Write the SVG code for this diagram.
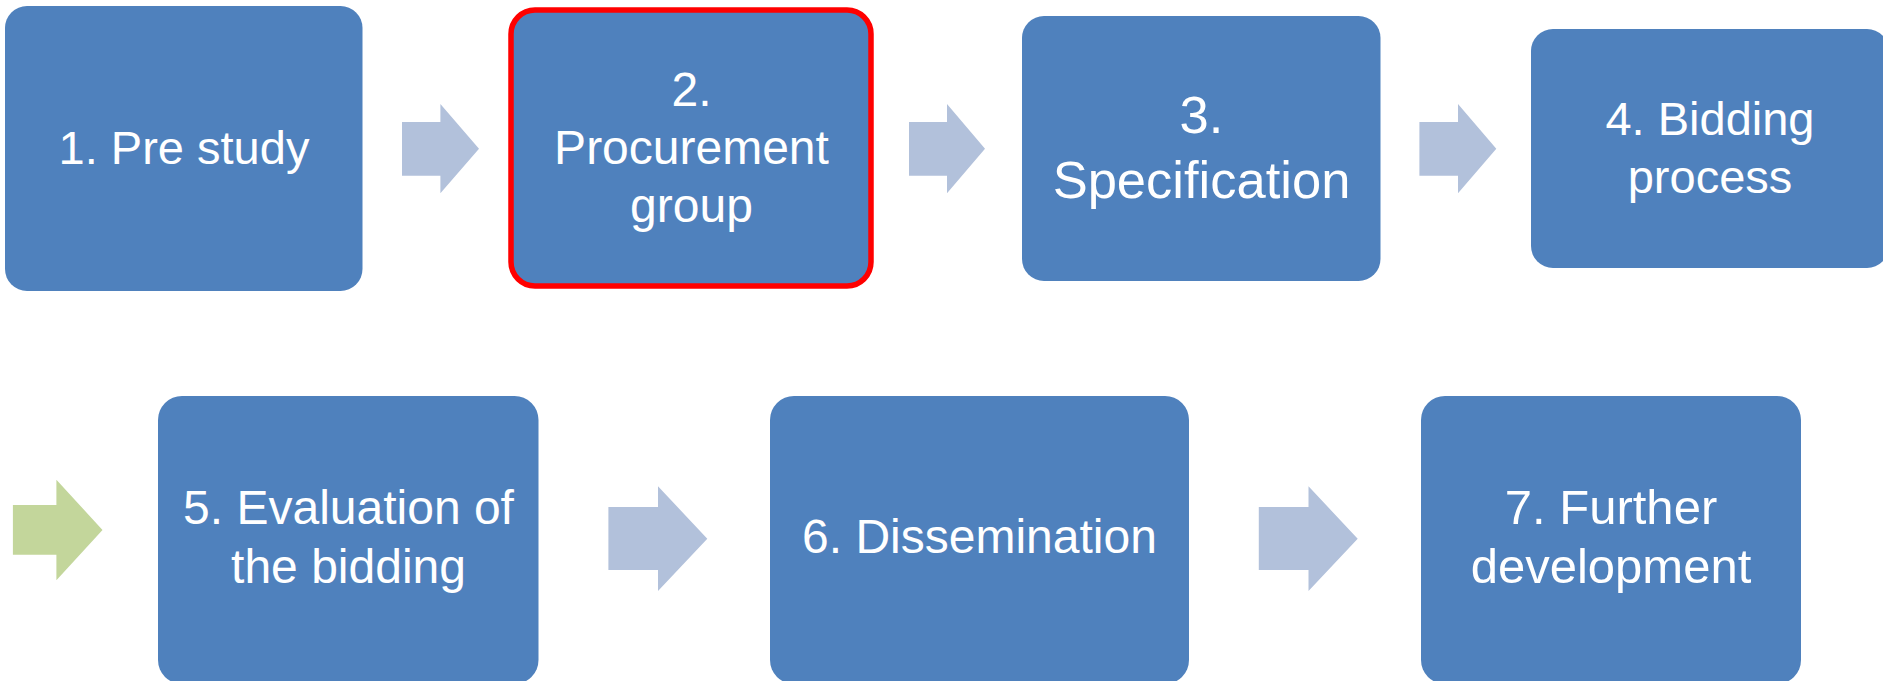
<svg xmlns="http://www.w3.org/2000/svg" width="1883" height="681" viewBox="0 0 1883 681">
<style>
.box{fill:#4F81BD;}
.hl{stroke:#FF0000;stroke-width:5.5;}
.lbl{fill:#FFFFFF;font-family:"Liberation Sans",Arial,sans-serif;font-size:48px;text-anchor:middle;}
.lg{font-size:52.5px;}
.sm{font-size:47px;}
.md{font-size:49px;}
.arr{fill:#B2C1DB;}
.arr-g{fill:#C3D69B;}
</style>
<rect width="1883" height="681" fill="#FFFFFF"/>
<g id="connectors">
<polygon class="arr" points="402,122 440.4,122 440.4,104 479,148.7 440.4,193.3 440.4,175.7 402,175.7"/>
<polygon class="arr" points="909,122 947,122 947,104 985,148.7 947,193.3 947,175.7 909,175.7"/>
<polygon class="arr" points="1419.4,122 1458,122 1458,104 1496.3,148.7 1458,193.3 1458,175.7 1419.4,175.7"/>
<polygon class="arr-g" points="12.9,505 56.4,505 56.4,479.7 102.5,530 56.4,580.3 56.4,554.7 12.9,554.7"/>
<polygon class="arr" points="608.4,507 658,507 658,486.3 707.3,538.7 658,591 658,570 608.4,570"/>
<polygon class="arr" points="1258.8,507 1308.5,507 1308.5,486.3 1357.7,538.7 1308.5,591 1308.5,570 1258.8,570"/>
</g>
<g id="node1">
<rect class="box" x="5" y="6" width="357.5" height="285" rx="22"/>
<text class="lbl sm" x="184" y="164">1. Pre study</text>
</g>
<g id="node2">
<rect class="box hl" x="511" y="10" width="360" height="276" rx="24"/>
<text class="lbl" x="691.5" y="106">2.</text>
<text class="lbl" x="691.5" y="164">Procurement</text>
<text class="lbl" x="691.5" y="222">group</text>
</g>
<g id="node3">
<rect class="box" x="1022" y="16" width="358.5" height="265" rx="22"/>
<text class="lbl lg" x="1201.5" y="133">3.</text>
<text class="lbl lg" x="1201.5" y="198">Specification</text>
</g>
<g id="node4">
<rect class="box" x="1531" y="29" width="358" height="239" rx="22"/>
<text class="lbl sm" x="1710" y="135">4. Bidding</text>
<text class="lbl sm" x="1710" y="193">process</text>
</g>
<g id="node5">
<rect class="box" x="158" y="396" width="380.5" height="288" rx="24"/>
<text class="lbl" x="348.5" y="524">5. Evaluation of</text>
<text class="lbl" x="348.5" y="583">the bidding</text>
</g>
<g id="node6">
<rect class="box" x="770" y="396" width="419" height="288" rx="24"/>
<text class="lbl" x="979.5" y="553">6. Dissemination</text>
</g>
<g id="node7">
<rect class="box" x="1421" y="396" width="380" height="288" rx="24"/>
<text class="lbl md" x="1611" y="524">7. Further</text>
<text class="lbl md" x="1611" y="582.5">development</text>
</g>
</svg>
